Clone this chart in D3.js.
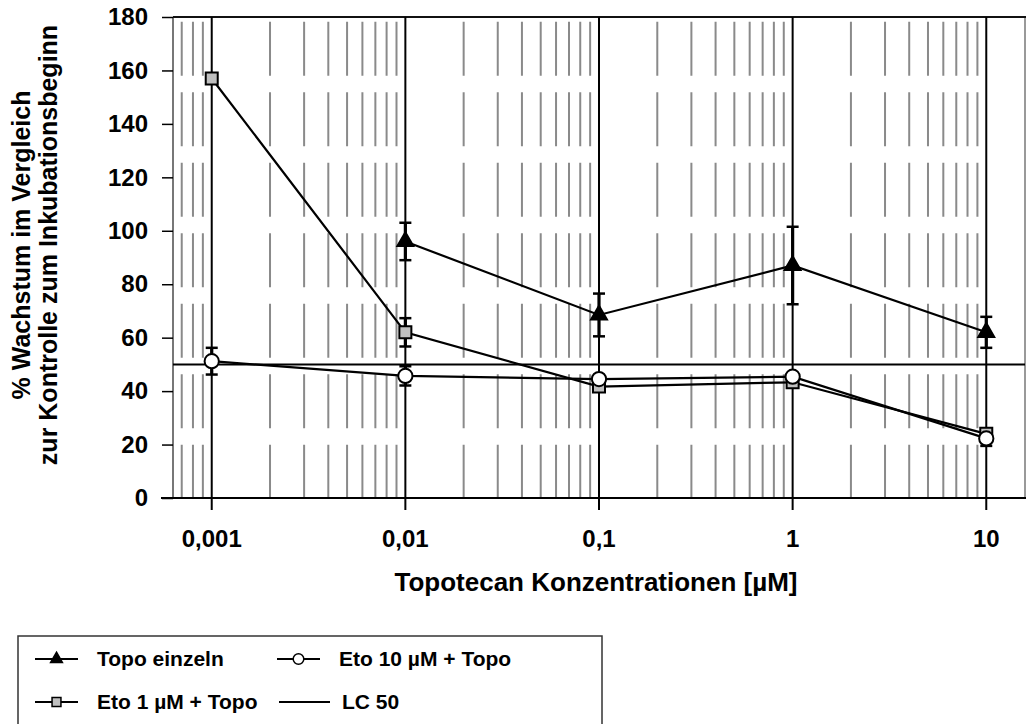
<!DOCTYPE html>
<html>
<head>
<meta charset="utf-8">
<script src="https://cdn.jsdelivr.net/npm/d3@7"></script>
<style>
body { margin: 0; background: #fff; }
text { font-family: "Liberation Sans", Arial, sans-serif; font-weight: bold; fill: #000; }
</style>
</head>
<body>
<svg id="chart" width="1026" height="724"></svg>
<script>
var concentrations = [0.001, 0.01, 0.1, 1, 10]
var xLabels = ['0,001', '0,01', '0,1', '1', '10']
var yTicks = [0, 20, 40, 60, 80, 100, 120, 140, 160, 180]
var topoValues = [null, 96, 68.5, 87, 62]
var topoErrors = [null, 7, 8, 14.5, 5.8]
var eto1Values = [157, 62, 41.7, 43.3, 24]
var eto1Errors = [0, 5.3, 1, 1, 1.5]
var eto10Values = [51.2, 45.7, 44.5, 45.4, 22.3]
var eto10Errors = [5, 3.6, 0.8, 0.8, 2.8]
var lc50 = 50
var seriesNames = ['Topo einzeln', 'Eto 10 µM + Topo', 'Eto 1 µM + Topo', 'LC 50']

var svg = d3.select('#chart')
var margin = { left: 173, right: 1025, top: 17, bottom: 498 }

var x = d3.scaleLog()
    .domain([Math.pow(10, -3.2), Math.pow(10, 1.2)])
    .range([margin.left, margin.right])
var y = d3.scaleLinear()
    .domain([0, 180])
    .range([margin.bottom, margin.top])

// minor grid (dashed gray)
var minor = []
for (var e = -4; e <= 1; e++) {
    for (var m = 2; m <= 9; m++) {
        var v = m * Math.pow(10, e)
        if (v > x.domain()[0] && v < x.domain()[1]) minor.push(v)
    }
}
svg.append('g')
    .selectAll('line')
    .data(minor)
    .enter()
    .append('line')
    .attr('x1', d => x(d)).attr('x2', d => x(d))
    .attr('y1', margin.top + 4.7).attr('y2', margin.bottom)
    .attr('stroke', '#8a8a8a')
    .attr('stroke-width', 2)
    .attr('stroke-dasharray', '54,16.5')

// plot border
svg.append('line')
    .attr('x1', margin.left).attr('x2', margin.left)
    .attr('y1', margin.top).attr('y2', margin.bottom)
    .attr('stroke', '#777').attr('stroke-width', 2)
svg.append('line')
    .attr('x1', margin.right).attr('x2', margin.right)
    .attr('y1', margin.top).attr('y2', margin.bottom)
    .attr('stroke', '#999').attr('stroke-width', 2)
svg.append('line')
    .attr('x1', margin.left).attr('x2', margin.right + 2)
    .attr('y1', margin.top).attr('y2', margin.top)
    .attr('stroke', '#111').attr('stroke-width', 2)

// major grid
svg.append('g')
    .selectAll('line')
    .data(concentrations)
    .enter()
    .append('line')
    .attr('x1', d => x(d)).attr('x2', d => x(d))
    .attr('y1', margin.top).attr('y2', margin.bottom + 12)
    .attr('stroke', '#000')
    .attr('stroke-width', 2)

// LC 50
svg.append('line')
    .attr('x1', margin.left).attr('x2', margin.right)
    .attr('y1', y(lc50)).attr('y2', y(lc50))
    .attr('stroke', '#000').attr('stroke-width', 2)

// y axis
var yAxis = svg.append('g')
    .attr('transform', 'translate(' + margin.left + ',0)')
    .call(d3.axisLeft(y).tickValues(yTicks).tickSize(11).tickPadding(14))
yAxis.select('.domain').remove()
yAxis.selectAll('line').attr('stroke', '#000').attr('stroke-width', 1.5)
yAxis.selectAll('text')
    .attr('font-size', 24)
    .attr('font-family', '"Liberation Sans", Arial, sans-serif')
    .attr('font-weight', 'bold')

// x axis line
svg.append('line')
    .attr('x1', margin.left - 12).attr('x2', margin.right + 2)
    .attr('y1', margin.bottom).attr('y2', margin.bottom)
    .attr('stroke', '#000').attr('stroke-width', 2)

svg.append('g')
    .selectAll('text')
    .data(concentrations)
    .enter()
    .append('text')
    .attr('x', d => x(d))
    .attr('y', 547)
    .attr('text-anchor', 'middle')
    .attr('font-size', 24)
    .text((d, i) => xLabels[i])

svg.append('text')
    .attr('x', 596)
    .attr('y', 591)
    .attr('text-anchor', 'middle')
    .attr('font-size', 26)
    .text('Topotecan Konzentrationen [µM]')

var yTitle = svg.append('text')
    .attr('transform', 'translate(0,245) rotate(-90)')
    .attr('text-anchor', 'middle')
    .attr('font-size', 25)
yTitle.append('tspan').attr('x', 0).attr('y', 30).text('% Wachstum im Vergleich')
yTitle.append('tspan').attr('x', 0).attr('y', 57).text('zur Kontrolle zum Inkubationsbeginn')

// series
var series = [
    { values: topoValues, errors: topoErrors, symbol: d3.symbolTriangle, size: 110, fill: '#000' },
    { values: eto1Values, errors: eto1Errors, symbol: d3.symbolSquare, size: 144, fill: '#c0c0c0' },
    { values: eto10Values, errors: eto10Errors, symbol: d3.symbolCircle, size: 160, fill: '#fff' }
]

function points(s) {
    return concentrations.map((c, i) => ({ c: c, v: s.values[i], e: s.errors[i] }))
        .filter(d => d.v != null)
}

var line = d3.line().x(d => x(d.c)).y(d => y(d.v))

series.forEach(function (s) {
    svg.append('path')
        .datum(points(s))
        .attr('d', line)
        .attr('fill', 'none')
        .attr('stroke', '#000')
        .attr('stroke-width', 2.2)
})

series.forEach(function (s) {
    var g = svg.append('g')
    var pts = points(s).filter(d => d.e > 0)
    g.selectAll('.stem')
        .data(pts)
        .enter()
        .append('line')
        .attr('x1', d => x(d.c)).attr('x2', d => x(d.c))
        .attr('y1', d => y(d.v + d.e)).attr('y2', d => y(d.v - d.e))
        .attr('stroke', '#000').attr('stroke-width', 3.2)
    g.selectAll('.capTop')
        .data(pts)
        .enter()
        .append('line')
        .attr('x1', d => x(d.c) - 6).attr('x2', d => x(d.c) + 6)
        .attr('y1', d => y(d.v + d.e)).attr('y2', d => y(d.v + d.e))
        .attr('stroke', '#000').attr('stroke-width', 2.5)
    g.selectAll('.capBottom')
        .data(pts)
        .enter()
        .append('line')
        .attr('x1', d => x(d.c) - 6).attr('x2', d => x(d.c) + 6)
        .attr('y1', d => y(d.v - d.e)).attr('y2', d => y(d.v - d.e))
        .attr('stroke', '#000').attr('stroke-width', 2.5)
})

series.forEach(function (s) {
    svg.append('g')
        .selectAll('path')
        .data(points(s))
        .enter()
        .append('path')
        .attr('transform', d => 'translate(' + x(d.c) + ',' + y(d.v) + ')')
        .attr('d', d3.symbol().type(s.symbol).size(s.size))
        .attr('fill', s.fill)
        .attr('stroke', '#000')
        .attr('stroke-width', 2)
})

// legend
var legend = svg.append('g')
legend.append('rect')
    .attr('x', 18).attr('y', 636)
    .attr('width', 584).attr('height', 100)
    .attr('fill', 'none')
    .attr('stroke', '#333')
    .attr('stroke-width', 1.5)

var legendItems = [
    { name: seriesNames[0], lx: 35, ly: 659, s: series[0] },
    { name: seriesNames[1], lx: 277, ly: 659, s: series[2] },
    { name: seriesNames[2], lx: 35, ly: 702, s: series[1] },
    { name: seriesNames[3], lx: 279, ly: 702, s: null }
]
legendItems.forEach(function (d) {
    var w = d.s ? 43 : 51
    legend.append('line')
        .attr('x1', d.lx).attr('x2', d.lx + w)
        .attr('y1', d.ly).attr('y2', d.ly)
        .attr('stroke', '#000').attr('stroke-width', 2)
    if (d.s) {
        legend.append('path')
            .attr('transform', 'translate(' + (d.lx + w / 2) + ',' + d.ly + ')')
            .attr('d', d3.symbol().type(d.s.symbol).size(d.s.size * 0.55))
            .attr('fill', d.s.fill)
            .attr('stroke', '#000')
            .attr('stroke-width', 1.5)
    }
    legend.append('text')
        .attr('x', d.lx + (d.s ? 62 : 63))
        .attr('y', d.ly)
        .attr('dy', '0.35em')
        .attr('font-size', 21)
        .text(d.name)
})
</script>
</body>
</html>
